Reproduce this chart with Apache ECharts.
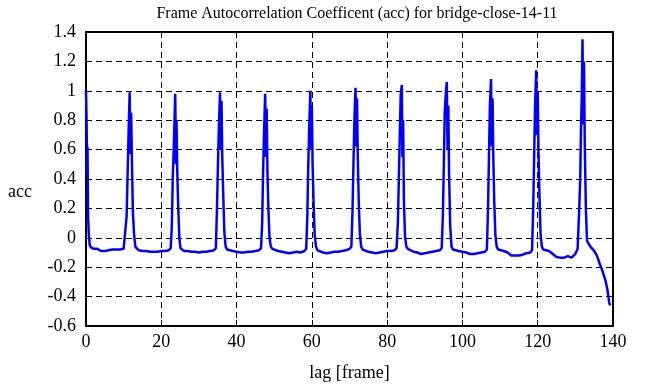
<!DOCTYPE html>
<html>
<head>
<meta charset="utf-8">
<script src="https://cdn.jsdelivr.net/npm/echarts@6/dist/echarts.min.js"></script>
<style>html,body{margin:0;padding:0;background:#fff;}#c{width:666px;height:387px;}</style>
</head>
<body>
<div id="c"></div>
<script>
var titleText = 'Frame Autocorrelation Coefficent (acc) for bridge-close-14-11';
var xName = 'lag [frame]';
var yName = 'acc';
var xTicks = [0, 20, 40, 60, 80, 100, 120, 140];
var yTicks = ['-0.6', '-0.4', '-0.2', '0', '0.2', '0.4', '0.6', '0.8', '1', '1.2', '1.4'];

var lags = [
  0, 0.15, 0.3, 0.4, 0.55, 0.75, 1.0,
  1.3, 2, 3, 4, 5, 6, 7, 8, 9, 10, 10.5,
  10.8, 11.05, 11.3, 11.6, 11.8, 12.0, 12.2, 12.45, 12.75, 13.1,
  13.5, 14, 15, 16, 17, 18, 19, 20, 21, 22, 22.5,
  22.8, 23.05, 23.35, 23.7, 23.9, 24.05, 24.25, 24.5, 24.8, 25.1,
  25.5, 26, 27, 28, 29, 30, 31, 32, 33, 34, 34.5,
  34.8, 35.05, 35.3, 35.6, 35.8, 36.0, 36.2, 36.45, 36.75, 37.1,
  37.5, 38, 39, 40, 41, 42, 43, 44, 45, 46, 46.5,
  46.8, 47.05, 47.3, 47.6, 47.8, 48.0, 48.2, 48.45, 48.75, 49.1,
  49.5, 50, 51, 52, 53, 54, 55, 56, 57, 58, 58.5,
  58.8, 59.05, 59.3, 59.6, 59.8, 60.0, 60.2, 60.45, 60.75, 61.1,
  61.5, 62, 63, 64, 65, 66, 67, 68, 69, 70, 70.5,
  70.8, 71.05, 71.3, 71.6, 71.8, 72.0, 72.2, 72.45, 72.75, 73.1,
  73.5, 74, 75, 76, 77, 78, 79, 80, 81, 82, 82.5,
  82.85, 83.1, 83.35, 83.6, 83.9, 84.05, 84.25, 84.45, 84.75, 85.1,
  85.5, 86, 87, 88, 89, 90, 91, 92, 93, 94, 94.5,
  94.8, 95.05, 95.3, 95.6, 95.85, 96.05, 96.25, 96.45, 96.75, 97.1,
  97.5, 98, 99, 100, 101, 102, 103, 104, 105, 106, 106.5,
  106.8, 107.05, 107.3, 107.6, 107.8, 108.0, 108.2, 108.45, 108.75, 109.1,
  109.5, 110, 111, 112, 113, 114, 115, 116, 117, 118, 118.5,
  118.8, 119.05, 119.3, 119.6, 119.8, 120.0, 120.2, 120.45, 120.75, 121.1,
  121.5, 122, 123, 124, 125, 126, 127, 128, 129, 130, 130.6, 131.0,
  131.05, 131.3, 131.5, 131.7, 131.9, 132.1, 132.3, 132.5, 132.8, 133.1,
  133.5, 134, 134.5, 135, 135.5, 136, 136.5, 137, 137.5, 138, 138.5, 139, 139.2
];
var acc = [
  1.00, 0.80, 0.45, 0.62, 0.15, 0.02, -0.05,
  -0.065, -0.075, -0.075, -0.09, -0.09, -0.085, -0.08, -0.08, -0.08, -0.075, -0.065,
  0.15, 0.43, 0.70, 0.99, 0.57, 0.85, 0.52, 0.18, 0.03, -0.06,
  -0.07, -0.085, -0.09, -0.09, -0.095, -0.095, -0.095, -0.09, -0.09, -0.085, -0.07,
  0.08, 0.41, 0.64, 0.98, 0.50, 0.80, 0.45, 0.21, 0.00, -0.07,
  -0.08, -0.09, -0.09, -0.095, -0.095, -0.10, -0.095, -0.095, -0.09, -0.085, -0.07,
  0.20, 0.50, 0.75, 0.99, 0.60, 0.93, 0.55, 0.30, 0.04, -0.06,
  -0.08, -0.085, -0.09, -0.095, -0.10, -0.10, -0.095, -0.095, -0.09, -0.085, -0.07,
  0.10, 0.45, 0.72, 0.98, 0.55, 0.88, 0.45, 0.20, 0.00, -0.06,
  -0.075, -0.085, -0.09, -0.095, -0.10, -0.105, -0.10, -0.095, -0.10, -0.09, -0.075,
  0.15, 0.50, 0.75, 1.00, 0.60, 0.90, 0.50, 0.25, 0.02, -0.06,
  -0.085, -0.095, -0.10, -0.105, -0.10, -0.095, -0.095, -0.09, -0.085, -0.075, -0.06,
  0.18, 0.50, 0.80, 1.02, 0.62, 0.95, 0.55, 0.25, 0.03, -0.06,
  -0.08, -0.09, -0.095, -0.10, -0.105, -0.10, -0.095, -0.09, -0.09, -0.085, -0.07,
  0.10, 0.39, 0.68, 0.97, 1.04, 0.55, 0.80, 0.26, 0.01, -0.06,
  -0.075, -0.085, -0.095, -0.10, -0.11, -0.105, -0.10, -0.095, -0.09, -0.085, -0.07,
  0.15, 0.48, 0.85, 0.99, 1.06, 0.60, 0.90, 0.44, 0.08, -0.06,
  -0.08, -0.09, -0.09, -0.095, -0.10, -0.11, -0.11, -0.105, -0.10, -0.095, -0.08,
  0.20, 0.55, 0.90, 1.08, 0.62, 0.95, 0.55, 0.25, 0.02, -0.06,
  -0.08, -0.085, -0.09, -0.10, -0.12, -0.12, -0.12, -0.115, -0.105, -0.10, -0.085,
  0.20, 0.55, 0.90, 1.14, 0.70, 1.00, 0.60, 0.30, 0.03, -0.06,
  -0.08, -0.085, -0.09, -0.11, -0.13, -0.135, -0.135, -0.125, -0.135, -0.11, -0.075, -0.075,
  0.21, 0.41, 0.75, 0.95, 1.35, 0.77, 1.20, 0.64, 0.19, -0.02,
  -0.04, -0.06, -0.07, -0.09, -0.11, -0.14, -0.18, -0.21, -0.25, -0.29, -0.35, -0.44, -0.46
];

var points = lags.map(function (l, i) { return [l, acc[i]]; });
var font = 'Liberation Serif';
var grid = {left: 86, right: 53, top: 32, bottom: 55};

function yLabel(v) {
  var r = Math.round(v * 10) / 10;
  for (var i = 0; i < yTicks.length; i++) {
    if (Math.abs(parseFloat(yTicks[i]) - r) < 1e-6) return yTicks[i];
  }
  return '';
}
function xLabel(v) {
  return xTicks.indexOf(Math.round(v)) >= 0 ? String(Math.round(v)) : '';
}

var frameLine = {show: true, onZero: false, lineStyle: {color: '#000', width: 2}};
var tick = {show: true, inside: true, length: 6, lineStyle: {color: '#000', width: 1}};

var chart = echarts.init(document.getElementById('c'), null, {renderer: 'canvas'});
chart.setOption({
  animation: false,
  backgroundColor: '#fff',
  title: {
    text: titleText,
    left: 352, textAlign: 'center', top: 1,
    textStyle: {fontFamily: font, fontSize: 16, fontWeight: 'normal', color: '#000'}
  },
  grid: grid,
  xAxis: [{
    type: 'value', min: 0, max: 140, interval: 20, position: 'bottom',
    axisLine: frameLine, axisTick: tick,
    axisLabel: {formatter: xLabel, fontFamily: font, fontSize: 18, color: '#000', margin: 7},
    splitLine: {show: true, lineStyle: {color: '#000', width: 1, type: [6, 4]}},
    name: xName, nameLocation: 'middle', nameGap: 38,
    nameTextStyle: {fontFamily: font, fontSize: 18, color: '#000'}
  }, {
    type: 'value', min: 0, max: 140, interval: 20, position: 'top',
    axisLine: frameLine, axisTick: tick, axisLabel: {show: false}, splitLine: {show: false}
  }],
  yAxis: [{
    type: 'value', min: -0.6, max: 1.4, interval: 0.2, position: 'left',
    axisLine: frameLine, axisTick: tick,
    axisLabel: {formatter: yLabel, fontFamily: font, fontSize: 18, color: '#000', margin: 10},
    splitLine: {show: true, lineStyle: {color: '#000', width: 1, type: [6, 4]}}
  }, {
    type: 'value', min: -0.6, max: 1.4, interval: 0.2, position: 'right',
    axisLine: frameLine, axisTick: tick, axisLabel: {show: false}, splitLine: {show: false}
  }],
  graphic: [{
    type: 'text', left: 8, top: 183,
    style: {text: yName, font: '18px "Liberation Serif"', fill: '#000'}
  }],
  series: [{
    type: 'line', data: points, showSymbol: false, symbol: 'none',
    lineStyle: {color: '#0000ff', width: 2.5}, itemStyle: {color: '#0000ff'},
    clip: true, z: 5
  }]
});
</script>
</body>
</html>
